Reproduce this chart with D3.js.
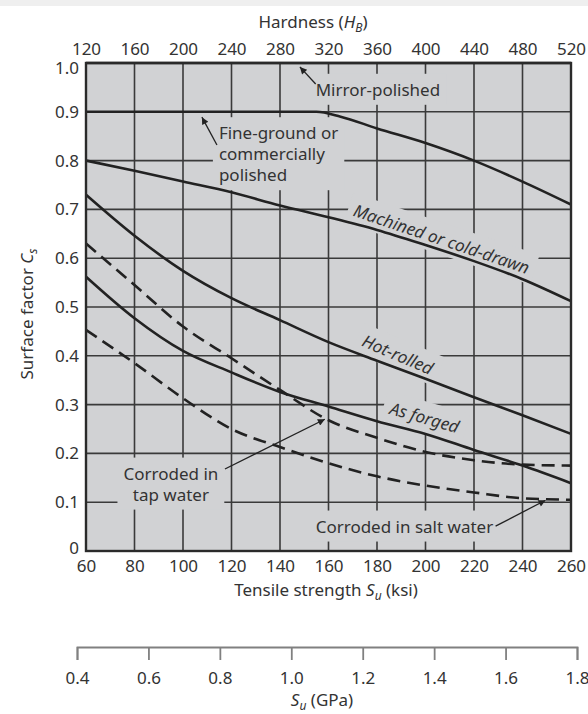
<!DOCTYPE html>
<html>
<head>
<meta charset="utf-8">
<script src="https://cdn.jsdelivr.net/npm/d3@7"></script>
<style>
body { margin: 0; background: #fff; }
text { font-family: "Noto Sans", sans-serif; fill: #333; }
</style>
</head>
<body>
<div id="chart"></div>
<script>
// tick values
var ksiTicks = [60, 80, 100, 120, 140, 160, 180, 200, 220, 240, 260];
var hardTicks = [120, 160, 200, 240, 280, 320, 360, 400, 440, 480, 520];
var csTicks = [0, 0.1, 0.2, 0.3, 0.4, 0.5, 0.6, 0.7, 0.8, 0.9, 1.0];
var gpaTicks = [0.4, 0.6, 0.8, 1.0, 1.2, 1.4, 1.6, 1.8];

// curves: [Su ksi, Cs]
var mirrorPolished = [[60, 1.0], [260, 1.0]];
var fineGround = [[60, 0.9], [155, 0.9], [165, 0.89], [180, 0.866], [200, 0.836], [220, 0.8], [240, 0.757], [260, 0.71]];
var machined = [[60, 0.8], [80, 0.779], [100, 0.757], [120, 0.735], [140, 0.708], [160, 0.684], [180, 0.658], [200, 0.627], [220, 0.594], [240, 0.557], [260, 0.512]];
var hotRolled = [[60, 0.73], [80, 0.646], [100, 0.574], [120, 0.518], [140, 0.473], [160, 0.428], [180, 0.39], [200, 0.353], [220, 0.315], [240, 0.278], [260, 0.24]];
var asForged = [[60, 0.562], [80, 0.477], [100, 0.41], [120, 0.366], [140, 0.326], [160, 0.296], [180, 0.266], [200, 0.24], [220, 0.207], [240, 0.175], [260, 0.139]];
var tapWater = [[60, 0.63], [80, 0.545], [100, 0.46], [120, 0.395], [140, 0.33], [160, 0.268], [180, 0.232], [200, 0.203], [220, 0.186], [240, 0.177], [260, 0.175]];
var saltWater = [[60, 0.453], [80, 0.385], [100, 0.313], [120, 0.25], [140, 0.213], [160, 0.18], [180, 0.153], [200, 0.134], [220, 0.12], [240, 0.108], [260, 0.105]];

// annotation arrows: [tail, tip] in data units
var arrows = [
  [[154.7, 0.957], [148.2, 0.992]],
  [[114, 0.832], [107.8, 0.889]],
  [[117.3, 0.168], [158.5, 0.27]],
  [[228.9, 0.051], [249.5, 0.104]]
];

var W = 588, H = 714;
var bg = "#d1d2d4";

var svg = d3.select("#chart").append("svg")
    .attr("width", W)
    .attr("height", H);

svg.append("rect").attr("width", W).attr("height", 6).attr("fill", "#efefef");

var x = d3.scaleLinear().domain([60, 260]).range([86, 571]);
var xh = d3.scaleLinear().domain([120, 520]).range([86, 571]);
var y = d3.scaleLinear().domain([0, 1]).range([551, 63]);
var xg = d3.scaleLinear().domain([0.4, 1.8]).range([77, 577]);

// plot background
svg.append("rect")
    .attr("x", x(60)).attr("y", y(1))
    .attr("width", x(260) - x(60)).attr("height", y(0) - y(1))
    .attr("fill", bg);

// grid
svg.append("g").selectAll("line")
    .data(ksiTicks.slice(1, -1))
    .enter().append("line")
    .attr("x1", function(d) { return x(d); })
    .attr("x2", function(d) { return x(d); })
    .attr("y1", y(1)).attr("y2", y(0))
    .attr("stroke", "#3a3a3a").attr("stroke-width", 1.6);
svg.append("g").selectAll("line")
    .data(csTicks.slice(1, -1))
    .enter().append("line")
    .attr("x1", x(60)).attr("x2", x(260))
    .attr("y1", function(d) { return y(d); })
    .attr("y2", function(d) { return y(d); })
    .attr("stroke", "#3a3a3a").attr("stroke-width", 1.6);

// labels with a background box that breaks the grid
function boxLabel(lines, xv, yv, anchor, rot, italic, lh) {
  var g = svg.append("g")
      .attr("transform", "translate(" + x(xv) + "," + y(yv) + ") rotate(" + rot + ")");
  var box = g.append("rect").attr("fill", bg);
  var n = lines.length;
  lines.forEach(function(s, i) {
    g.append("text")
        .attr("x", 0)
        .attr("y", (i - (n - 1) / 2) * lh)
        .attr("dy", "0.35em")
        .attr("text-anchor", anchor)
        .attr("font-size", 17)
        .attr("font-style", italic ? "italic" : "normal")
        .text(s);
  });
  var bb = g.node().getBBox();
  var p = 6;
  box.attr("x", bb.x - p).attr("y", bb.y - p + 2)
      .attr("width", bb.width + 2 * p).attr("height", bb.height + 2 * p - 4);
}

boxLabel(["Mirror-polished"], 154.7, 0.945, "start", 0, false, 21);
boxLabel(["Fine-ground or", "commercially", "polished"], 114.8, 0.813, "start", 0, false, 21);
boxLabel(["Machined or cold-drawn"], 206.6, 0.639, "middle", 18.5, true, 21);
boxLabel(["Hot-rolled"], 188.5, 0.402, "middle", 23, true, 21);
boxLabel(["As forged"], 199.6, 0.273, "middle", 16, true, 21);
boxLabel(["Corroded in", "tap water"], 95, 0.137, "middle", 0, false, 21);
boxLabel(["Corroded in salt water"], 154.7, 0.05, "start", 0, false, 21);

// curves
var line = d3.line()
    .x(function(d) { return x(d[0]); })
    .y(function(d) { return y(d[1]); })
    .curve(d3.curveMonotoneX);

var solid = [fineGround, machined, hotRolled, asForged];
var dashed = [tapWater, saltWater];

svg.append("g").selectAll("path")
    .data(solid)
    .enter().append("path")
    .attr("d", line)
    .attr("fill", "none")
    .attr("stroke", "#222")
    .attr("stroke-width", 2.6);

svg.append("g").selectAll("path")
    .data(dashed)
    .enter().append("path")
    .attr("d", line)
    .attr("fill", "none")
    .attr("stroke", "#222")
    .attr("stroke-width", 2.6)
    .attr("stroke-dasharray", "13,7");

// frame (mirror-polished lies on the top edge)
svg.append("path")
    .datum(mirrorPolished)
    .attr("d", line)
    .attr("fill", "none")
    .attr("stroke", "#222")
    .attr("stroke-width", 2.6);
svg.append("rect")
    .attr("x", x(60)).attr("y", y(1))
    .attr("width", x(260) - x(60)).attr("height", y(0) - y(1))
    .attr("fill", "none")
    .attr("stroke", "#2a2a2a")
    .attr("stroke-width", 2.4);

// arrows
svg.append("defs").append("marker")
    .attr("id", "head")
    .attr("viewBox", "0 0 10 10")
    .attr("refX", 10).attr("refY", 5)
    .attr("markerWidth", 10).attr("markerHeight", 7)
    .attr("markerUnits", "userSpaceOnUse")
    .attr("orient", "auto")
  .append("path")
    .attr("d", "M0,0L10,5L0,10z")
    .attr("fill", "#222");

svg.append("g").selectAll("line")
    .data(arrows)
    .enter().append("line")
    .attr("x1", function(d) { return x(d[0][0]); })
    .attr("y1", function(d) { return y(d[0][1]); })
    .attr("x2", function(d) { return x(d[1][0]); })
    .attr("y2", function(d) { return y(d[1][1]); })
    .attr("stroke", "#222")
    .attr("stroke-width", 1.3)
    .attr("marker-end", "url(#head)");

// axes
function styleAxis(g) {
  g.select(".domain").remove();
  g.selectAll("text").attr("font-size", 17).attr("font-family", "Noto Sans").attr("fill", "#333");
}

svg.append("g")
    .attr("transform", "translate(0," + y(0) + ")")
    .call(d3.axisBottom(x).tickValues(ksiTicks).tickSize(0).tickPadding(9).tickFormat(d3.format("d")))
    .call(styleAxis);

svg.append("g")
    .attr("transform", "translate(0," + y(1) + ")")
    .call(d3.axisTop(xh).tickValues(hardTicks).tickSize(0).tickPadding(8).tickFormat(d3.format("d")))
    .call(styleAxis);

var yAx = svg.append("g")
    .attr("transform", "translate(" + x(60) + ",0)")
    .call(d3.axisLeft(y).tickValues(csTicks).tickSize(0).tickPadding(7)
        .tickFormat(function(d) { return d === 0 ? "0" : d3.format(".1f")(d); }))
    .call(styleAxis);
// the end labels sit slightly inside the frame
yAx.selectAll(".tick text").attr("y", function(d) { return d === 1 ? 5 : (d === 0 ? -3 : 0); });

// GPa axis
var gpa = svg.append("g")
    .attr("transform", "translate(0,647)")
    .call(d3.axisBottom(xg).tickValues(gpaTicks).tickSizeInner(13).tickSizeOuter(13).tickPadding(12).tickFormat(d3.format(".1f")));
gpa.select(".domain").attr("stroke", "#808080").attr("stroke-width", 1.8);
gpa.selectAll(".tick line").attr("stroke", "#808080").attr("stroke-width", 1.8);
gpa.selectAll("text").attr("font-size", 17).attr("font-family", "Noto Sans").attr("fill", "#333");

// titles
var t1 = svg.append("text").attr("x", 313).attr("y", 28).attr("text-anchor", "middle").attr("font-size", 17);
t1.append("tspan").text("Hardness (");
t1.append("tspan").attr("font-style", "italic").text("H");
t1.append("tspan").attr("font-style", "italic").attr("font-size", 12).attr("dy", 4).text("B");
t1.append("tspan").attr("dy", -4).text(")");

var t2 = svg.append("text").attr("x", 326).attr("y", 596).attr("text-anchor", "middle").attr("font-size", 17);
t2.append("tspan").text("Tensile strength ");
t2.append("tspan").attr("font-style", "italic").text("S");
t2.append("tspan").attr("font-style", "italic").attr("font-size", 12).attr("dy", 4).text("u");
t2.append("tspan").attr("dy", -4).text(" (ksi)");

var t3 = svg.append("text").attr("x", 322).attr("y", 706).attr("text-anchor", "middle").attr("font-size", 17);
t3.append("tspan").attr("font-style", "italic").text("S");
t3.append("tspan").attr("font-style", "italic").attr("font-size", 12).attr("dy", 4).text("u");
t3.append("tspan").attr("dy", -4).text(" (GPa)");

var t4 = svg.append("text").attr("transform", "translate(33,314) rotate(-90)").attr("text-anchor", "middle").attr("font-size", 17);
t4.append("tspan").text("Surface factor ");
t4.append("tspan").attr("font-style", "italic").text("C");
t4.append("tspan").attr("font-style", "italic").attr("font-size", 12).attr("dy", 4).text("s");
</script>
</body>
</html>
